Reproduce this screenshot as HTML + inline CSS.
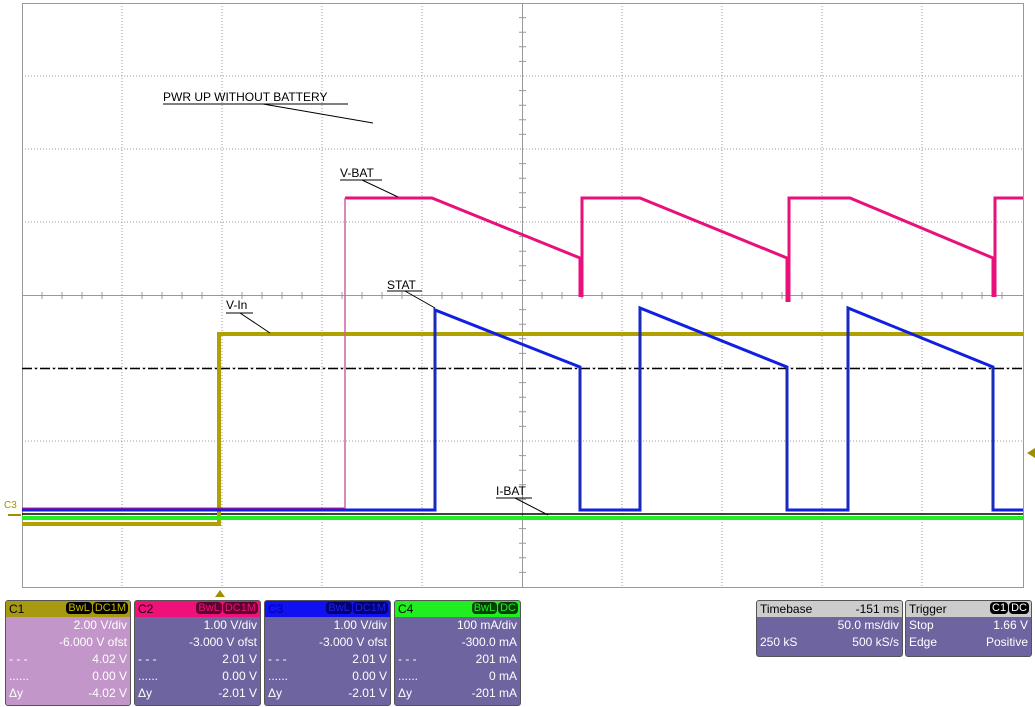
<!DOCTYPE html>
<html><head><style>
body{margin:0;background:#fff;width:1035px;height:707px;overflow:hidden;font-family:"Liberation Sans",sans-serif}
.p{position:absolute;border:1px solid #555;border-radius:3px;background:#6e64a0;color:#fff;font-size:12px;overflow:hidden}
.h{height:16px;line-height:16px;padding:0 3px;color:#000;position:relative}
.r{height:17px;line-height:17px;padding:0 3px;text-align:right;position:relative}
.r .l{position:absolute;left:3px}
.tg{position:absolute;right:2px;top:1px;font-size:11px;line-height:13px}
.tg span{border-radius:4px;padding:0 2px;margin-left:1px}
</style></head><body>
<svg width="1035" height="707" style="position:absolute;left:0;top:0">
<g stroke="#999" stroke-width="1" stroke-dasharray="1,2" fill="none">
<path d="M122 3V587M222 3V587M322 3V587M422 3V587M622 3V587M722 3V587M822 3V587M922 3V587"/>
<path d="M22 76H1023M22 149H1023M22 222H1023M22 368H1023M22 441H1023M22 514H1023"/>
</g>
<g stroke="#999" stroke-width="1" fill="none">
<rect x="22.5" y="3.5" width="1001" height="584"/>
<path d="M522.5 3V587M22 295.5H1023"/>
<path id="tk" d="M42 292V299M62 292V299M82 292V299M102 292V299M142 292V299M162 292V299M182 292V299M202 292V299M242 292V299M262 292V299M282 292V299M302 292V299M342 292V299M362 292V299M382 292V299M402 292V299M442 292V299M462 292V299M482 292V299M502 292V299M542 292V299M562 292V299M582 292V299M602 292V299M642 292V299M662 292V299M682 292V299M702 292V299M742 292V299M762 292V299M782 292V299M802 292V299M842 292V299M862 292V299M882 292V299M902 292V299M942 292V299M962 292V299M982 292V299M1002 292V299"/>
<path d="M519 17.6H526M519 32.2H526M519 46.8H526M519 61.4H526M519 90.6H526M519 105.2H526M519 119.8H526M519 134.4H526M519 163.6H526M519 178.2H526M519 192.8H526M519 207.4H526M519 236.6H526M519 251.2H526M519 265.8H526M519 280.4H526M519 309.6H526M519 324.2H526M519 338.8H526M519 353.4H526M519 382.6H526M519 397.2H526M519 411.8H526M519 426.4H526M519 455.6H526M519 470.2H526M519 484.8H526M519 499.4H526M519 528.6H526M519 543.2H526M519 557.8H526M519 572.4H526"/>
</g>
<g stroke="#000" stroke-width="1.5" fill="none">
<path d="M22 368.5H1023" stroke-dasharray="10,3,2,3"/>
<path d="M22 514H1023"/>
</g>
<path d="M22 524H219V334H1023" stroke="#b0a000" stroke-width="4" fill="none"/>
<path d="M22 518H1023" stroke="#22ee22" stroke-width="4" fill="none"/>
<path d="M22 509H345M345 198H432L580 258V297M582 297V198H640L787 258V302M789 302V198H850L993 258V297M995 297V198H1023" stroke="#e8107a" stroke-width="3" fill="none"/>
<path d="M345 509V198" stroke="#d060a0" stroke-width="1.5" fill="none"/>
<path d="M22 510H435V310L580 367V510H640V308L787 367V510H848V308L993 367V510H1023" stroke="#1020e0" stroke-width="3" fill="none"/>
<path d="M435 510V310M580 367V510M640 510V308M787 367V510M848 510V308M993 367V510" stroke="#2030a0" stroke-width="1.5" fill="none"/>
<g font-size="12" fill="#000">
<text x="163" y="101">PWR UP WITHOUT BATTERY</text>
<text x="340" y="177">V-BAT</text>
<text x="387" y="289">STAT</text>
<text x="226" y="309">V-In</text>
<text x="496" y="495">I-BAT</text>
<text x="4" y="508" fill="#a09000" font-size="10">C3</text>
</g>
<g stroke="#000" stroke-width="1" fill="none">
<path d="M163 104H348M263 104L373 123M340 180H382M362 180L398 197M387 291H422M405 291L435 308M226 313H253M240 313L270 333M496 498H532M515 498L548 515"/>
</g>
<path d="M215 597L220 590L225 597Z" fill="#a09000"/>
<path d="M1035 448L1027 453L1035 458Z" fill="#a09000"/>
<path d="M8 515H21" stroke="#a09000" stroke-width="2"/>
</svg>
<div class="p" style="left:5px;top:600px;width:124px;height:104px;background:#c296c8">
<div class="h" style="background:#a89a10">C1<div class="tg"><span style="background:#000;color:#c8b800">BwL</span><span style="background:#000;color:#c8b800">DC1M</span></div></div>
<div class="r">2.00 V/div</div><div class="r">-6.000 V ofst</div>
<div class="r"><span class="l">- - -</span>4.02 V</div><div class="r"><span class="l">......</span>0.00 V</div><div class="r"><span class="l">Δy</span>-4.02 V</div></div>
<div class="p" style="left:134px;top:600px;width:125px;height:104px">
<div class="h" style="background:#f0107a">C2<div class="tg"><span style="background:#600030;color:#f0107a">BwL</span><span style="background:#600030;color:#f0107a">DC1M</span></div></div>
<div class="r">1.00 V/div</div><div class="r">-3.000 V ofst</div>
<div class="r"><span class="l">- - -</span>2.01 V</div><div class="r"><span class="l">......</span>0.00 V</div><div class="r"><span class="l">Δy</span>-2.01 V</div></div>
<div class="p" style="left:264px;top:600px;width:125px;height:104px">
<div class="h" style="background:#1010f0;color:#0000a0">C3<div class="tg"><span style="background:#000070;color:#2020f0">BwL</span><span style="background:#000070;color:#2020f0">DC1M</span></div></div>
<div class="r">1.00 V/div</div><div class="r">-3.000 V ofst</div>
<div class="r"><span class="l">- - -</span>2.01 V</div><div class="r"><span class="l">......</span>0.00 V</div><div class="r"><span class="l">Δy</span>-2.01 V</div></div>
<div class="p" style="left:394px;top:600px;width:125px;height:104px">
<div class="h" style="background:#20ee20">C4<div class="tg"><span style="background:#004000;color:#20ee20">BwL</span><span style="background:#004000;color:#20ee20">DC</span></div></div>
<div class="r">100 mA/div</div><div class="r">-300.0 mA</div>
<div class="r"><span class="l">- - -</span>201 mA</div><div class="r"><span class="l">......</span>0 mA</div><div class="r"><span class="l">Δy</span>-201 mA</div></div>
<div class="p" style="left:756px;top:600px;width:145px;height:55px">
<div class="h" style="background:#ccc">Timebase<span style="position:absolute;right:3px">-151 ms</span></div>
<div class="r">50.0 ms/div</div><div class="r"><span class="l">250 kS</span>500 kS/s</div></div>
<div class="p" style="left:905px;top:600px;width:125px;height:55px">
<div class="h" style="background:#ccc">Trigger<div class="tg"><span style="background:#000;color:#fff">C1</span><span style="background:#000;color:#fff">DC</span></div></div>
<div class="r"><span class="l">Stop</span>1.66 V</div><div class="r"><span class="l">Edge</span>Positive</div></div>
</body></html>
